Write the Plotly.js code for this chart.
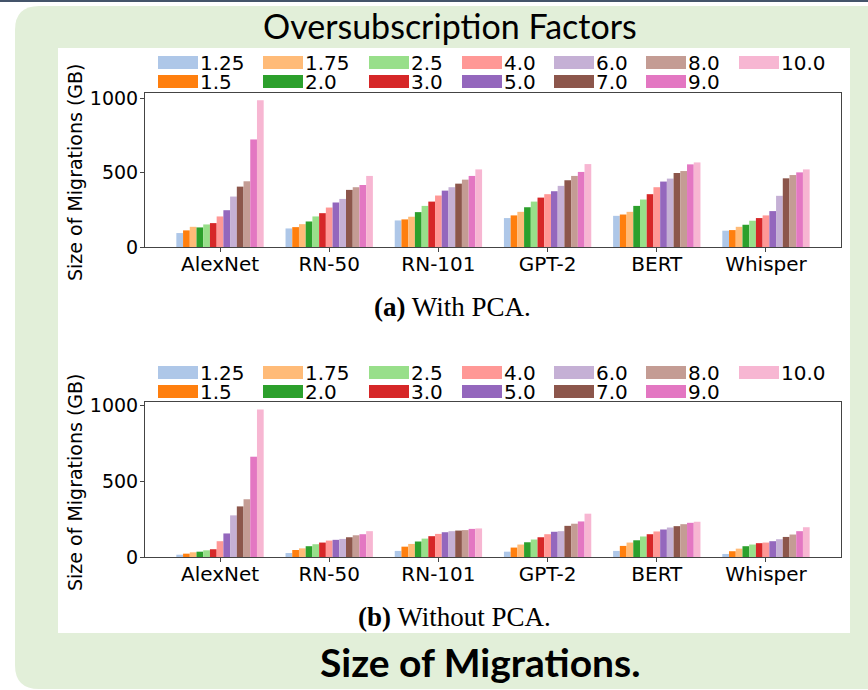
<!DOCTYPE html>
<html>
<head>
<meta charset="utf-8">
<script src="https://cdn.plot.ly/plotly-3.0.1.min.js"></script>
<style>html,body{margin:0;padding:0;background:#fff;} #chart{width:868px;height:690px;}</style>
</head>
<body>
<div id="chart"></div>
<script>
// ---- Data ----
const models = ['AlexNet', 'RN-50', 'RN-101', 'GPT-2', 'BERT', 'Whisper'];
const factors = ['1.25', '1.5', '1.75', '2.0', '2.5', '3.0', '4.0', '5.0', '6.0', '7.0', '8.0', '9.0', '10.0'];
const colors = ['#aec7e8', '#ff7f0e', '#ffbb78', '#2ca02c', '#98df8a', '#d62728', '#ff9896',
                '#9467bd', '#c5b0d5', '#8c564b', '#c49c94', '#e377c2', '#f7b6d2'];

// With PCA (GB), one array per model, values ordered by factor
const pcaAlexNet = [94, 112, 136, 132, 152, 161, 206, 248, 340, 407, 443, 725, 989];
const pcaRN50    = [125, 134, 154, 172, 206, 228, 266, 300, 324, 385, 403, 418, 479];
const pcaRN101   = [179, 186, 204, 235, 277, 306, 347, 380, 403, 427, 454, 479, 523];
const pcaGPT2    = [195, 213, 237, 268, 306, 333, 356, 376, 412, 450, 479, 506, 559];
const pcaBERT    = [210, 219, 237, 277, 320, 356, 403, 441, 461, 499, 512, 557, 570];
const pcaWhisper = [110, 114, 136, 150, 177, 195, 213, 242, 345, 463, 485, 503, 523];

// Without PCA (GB)
const noAlexNet = [15, 22, 31, 35, 44, 51, 104, 155, 274, 333, 380, 660, 971];
const noRN50    = [26, 46, 57, 71, 84, 95, 108, 113, 119, 130, 143, 150, 170];
const noRN101   = [40, 68, 86, 102, 121, 137, 152, 163, 170, 174, 177, 185, 188];
const noGPT2    = [35, 62, 82, 97, 115, 130, 150, 166, 170, 205, 219, 234, 285];
const noBERT    = [40, 73, 95, 110, 135, 150, 168, 181, 194, 203, 216, 225, 232];
const noWhisper = [20, 38, 55, 71, 82, 91, 95, 104, 117, 132, 148, 170, 196];

const yTicks = [0, 500, 1000];
const yTitle = 'Size of Migrations (GB)';
const topTitle = 'Oversubscription Factors';
const captionA = '<b>(a)</b> With PCA.';
const captionB = '<b>(b)</b> Without PCA.';
const bottomTitle = '<b>Size of Migrations.</b>';

// ---- Layout helpers (pixel -> paper) ----
const W = 868, H = 690;
const M = {l: 145, r: 27, t: 93, b: 133};
const PW = W - M.l - M.r, PH = H - M.t - M.b;
const px = x => (x - M.l) / PW;
const py = y => (H - M.b - y) / PH;

const pcaSets = [pcaAlexNet, pcaRN50, pcaRN101, pcaGPT2, pcaBERT, pcaWhisper];
const noSets = [noAlexNet, noRN50, noRN101, noGPT2, noBERT, noWhisper];

const traces = [];
factors.forEach((f, i) => {
  traces.push({
    type: 'bar', name: f, x: models, y: pcaSets.map(s => s[i]),
    marker: {color: colors[i], line: {width: 0}}, xaxis: 'x', yaxis: 'y',
    showlegend: false, hoverinfo: 'x+y+name'
  });
});
factors.forEach((f, i) => {
  traces.push({
    type: 'bar', name: f, x: models, y: noSets.map(s => s[i]),
    marker: {color: colors[i], line: {width: 0}}, xaxis: 'x2', yaxis: 'y2',
    showlegend: false, hoverinfo: 'x+y+name'
  });
});

const baseFont = {family: 'DejaVu Sans, sans-serif', size: 19, color: '#000'};
const tickFontX = {family: 'DejaVu Sans, sans-serif', size: 20, color: '#000'};

function xAxis(anchor) {
  return {
    anchor: anchor, domain: [0, 1], type: 'category',
    range: [-0.687, models.length - 1 + 0.687],
    showline: true, mirror: true, linecolor: '#444', linewidth: 1,
    ticks: 'outside', ticklen: 4, tickcolor: '#444', showgrid: false, zeroline: false,
    tickfont: tickFontX, ticklabelstandoff: -5, fixedrange: true
  };
}
function yAxis(anchor, domain, maxv) {
  return {
    anchor: anchor, domain: domain, range: [0, maxv],
    tickvals: yTicks, ticktext: yTicks.map(String),
    showline: true, mirror: true, linecolor: '#444', linewidth: 1,
    ticks: 'outside', ticklen: 4, tickcolor: '#444', showgrid: false, zeroline: false,
    tickfont: baseFont, ticklabelstandoff: -2, fixedrange: true
  };
}

// Panels
const shapes = [];
const r = 24, L = 15, T = 6, R = 900, B = 689;
shapes.push({
  type: 'path', xref: 'paper', yref: 'paper', layer: 'below',
  path: `M${px(L + r)},${py(T)} L${px(R)},${py(T)} L${px(R)},${py(B)} L${px(L + r)},${py(B)} ` +
        `Q${px(L)},${py(B)} ${px(L)},${py(B - r)} L${px(L)},${py(T + r)} Q${px(L)},${py(T)} ${px(L + r)},${py(T)} Z`,
  fillcolor: '#e2efd9', line: {width: 0}
});
shapes.push({type: 'rect', xref: 'paper', yref: 'paper', layer: 'below',
  x0: px(0), x1: px(W), y0: py(0), y1: py(2), fillcolor: '#44546a', line: {width: 0}});
shapes.push({type: 'rect', xref: 'paper', yref: 'paper', layer: 'below',
  x0: px(58), x1: px(850), y0: py(48), y1: py(633), fillcolor: '#ffffff', line: {width: 0}});

const annotations = [];
// Custom legends (column-major, 7 columns x 2 rows) for each panel
const legCols = [158, 263, 369, 462, 554, 646, 739];
const legendRows = [[62.5, 81.5], [372.5, 391.5]];
legendRows.forEach(rows => {
  factors.forEach((f, i) => {
    const c = Math.floor(i / 2), rr = i % 2;
    const x0 = legCols[c], yc = rows[rr];
    shapes.push({type: 'rect', xref: 'paper', yref: 'paper', layer: 'above',
      x0: px(x0), x1: px(x0 + 40), y0: py(yc - 6.5), y1: py(yc + 6.5),
      fillcolor: colors[i], line: {width: 0}});
    annotations.push({xref: 'paper', yref: 'paper', x: px(x0 + 41), y: py(yc + 0.5),
      xanchor: 'left', yanchor: 'middle', text: f, showarrow: false,
      font: {family: 'DejaVu Sans, sans-serif', size: 20, color: '#000'}, borderpad: 0});
  });
});

// Titles and captions
annotations.push({xref: 'paper', yref: 'paper', x: px(450), y: py(25), xanchor: 'center', yanchor: 'middle',
  text: topTitle, showarrow: false, font: {family: 'Lato, sans-serif', size: 34, color: '#000'}});
annotations.push({xref: 'paper', yref: 'paper', x: px(452), y: py(307), xanchor: 'center', yanchor: 'middle',
  text: captionA, showarrow: false, font: {family: 'Liberation Serif, serif', size: 27, color: '#000'}});
annotations.push({xref: 'paper', yref: 'paper', x: px(454), y: py(617), xanchor: 'center', yanchor: 'middle',
  text: captionB, showarrow: false, font: {family: 'Liberation Serif, serif', size: 27, color: '#000'}});
annotations.push({xref: 'paper', yref: 'paper', x: px(480), y: py(662), xanchor: 'center', yanchor: 'middle',
  text: bottomTitle, showarrow: false, font: {family: 'Lato, sans-serif', size: 39, color: '#000'}});
// Y axis titles
[172, 482].forEach(yc => {
  annotations.push({xref: 'paper', yref: 'paper', x: px(75), y: py(yc), xanchor: 'center', yanchor: 'middle',
    text: yTitle, textangle: -90, showarrow: false, font: baseFont});
});

const layout = {
  width: W, height: H, margin: M,
  paper_bgcolor: '#ffffff', plot_bgcolor: '#ffffff',
  barmode: 'group', bargap: 0.2, bargroupgap: 0,
  showlegend: false,
  xaxis: xAxis('y'), yaxis: yAxis('x', [py(247), py(93)], 1038),
  xaxis2: xAxis('y2'), yaxis2: yAxis('x2', [py(557), py(402)], 1020),
  shapes: shapes, annotations: annotations, font: baseFont
};

Plotly.newPlot('chart', traces, layout, {displayModeBar: false, staticPlot: true});
</script>
</body>
</html>
